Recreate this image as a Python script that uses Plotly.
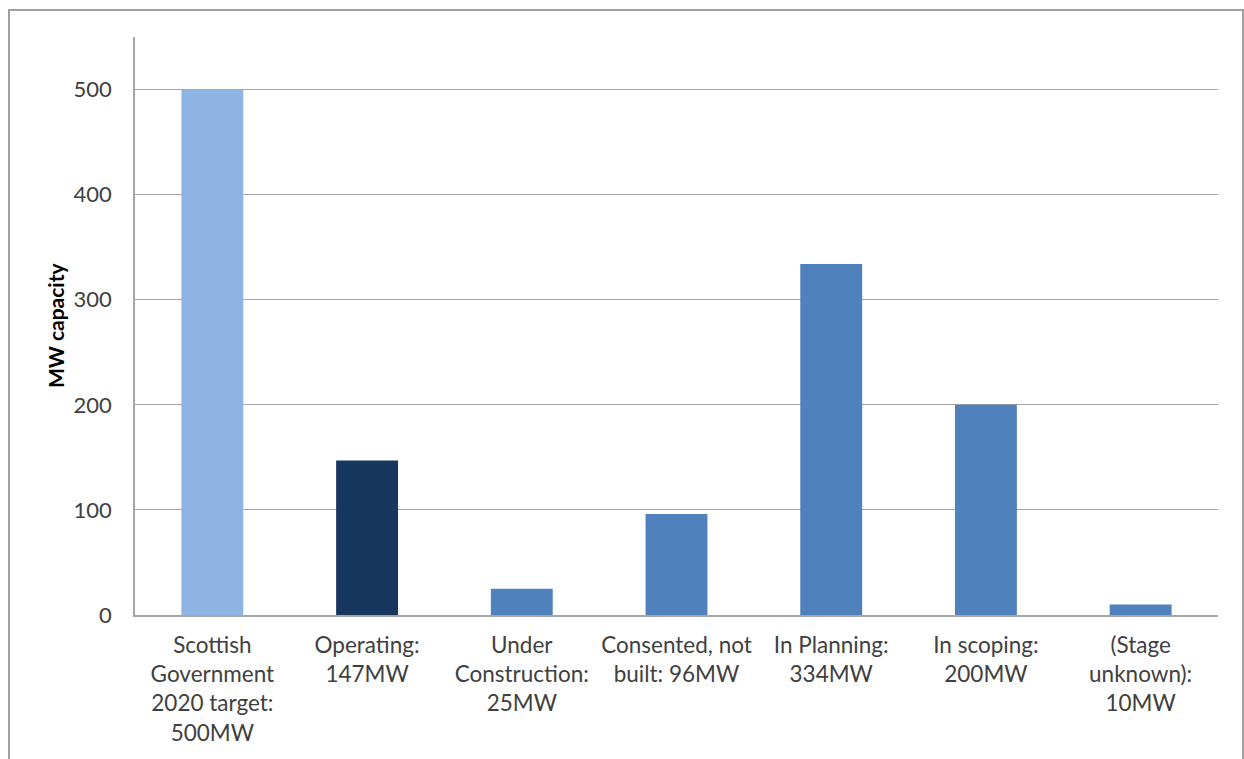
import plotly.graph_objects as go

categories = [
    "Scottish<br>Government<br>2020 target:<br>500MW",
    "Operating:<br>147MW",
    "Under<br>Construction:<br>25MW",
    "Consented, not<br>built: 96MW",
    "In Planning:<br>334MW",
    "In scoping:<br>200MW",
    "(Stage<br>unknown):<br>10MW",
]
capacity_mw = [500, 147, 25, 96, 334, 200, 10]
bar_colors = ["#8DB4E2", "#17375E", "#4F81BD", "#4F81BD", "#4F81BD", "#4F81BD", "#4F81BD"]
y_ticks = [0, 100, 200, 300, 400, 500]

FONT = "Lato, Calibri, Carlito, sans-serif"

fig = go.Figure(
    go.Bar(
        x=list(range(len(categories))),
        y=capacity_mw,
        marker=dict(color=bar_colors, line=dict(width=0)),
        width=0.4,
        hoverinfo="skip",
    )
)

fig.update_layout(
    width=1244,
    height=759,
    margin=dict(l=135, r=26, t=37, b=144),
    paper_bgcolor="white",
    plot_bgcolor="white",
    showlegend=False,
    font=dict(family=FONT, size=22, color="#404040"),
    xaxis=dict(
        tickmode="array",
        tickvals=list(range(len(categories))),
        ticktext=categories,
        range=[-0.5, len(categories) - 0.5],
        showgrid=False,
        showline=True,
        linecolor="#A6A6A6",
        linewidth=1.5,
        ticks="",
        ticklabelstandoff=9,
        tickfont=dict(family=FONT, size=22.5, color="#404040"),
        zeroline=False,
    ),
    yaxis=dict(
        range=[0, 550],
        tickvals=y_ticks,
        showgrid=True,
        gridcolor="#A6A6A6",
        gridwidth=1,
        showline=True,
        linecolor="#A6A6A6",
        linewidth=1.5,
        ticks="",
        ticklabelstandoff=17,
        tickfont=dict(family=FONT, size=22, color="#404040"),
        zeroline=False,
    ),
    annotations=[
        dict(
            text="<b>MW capacity</b>",
            textangle=-90,
            xref="paper",
            yref="paper",
            x=(55 - 135) / 1083,
            y=(615 - 325) / 578,
            xanchor="center",
            yanchor="middle",
            showarrow=False,
            font=dict(family=FONT, size=21, color="black"),
        )
    ],
    shapes=[
        dict(
            type="rect",
            xref="paper",
            yref="paper",
            x0=(9 - 135) / 1083,
            x1=(1243 - 135) / 1083,
            y0=(615 - 780) / 578,
            y1=(615 - 10) / 578,
            line=dict(color="#A0A0A0", width=2),
            fillcolor="rgba(0,0,0,0)",
            layer="below",
        )
    ],
)

fig.write_html("out.html")
